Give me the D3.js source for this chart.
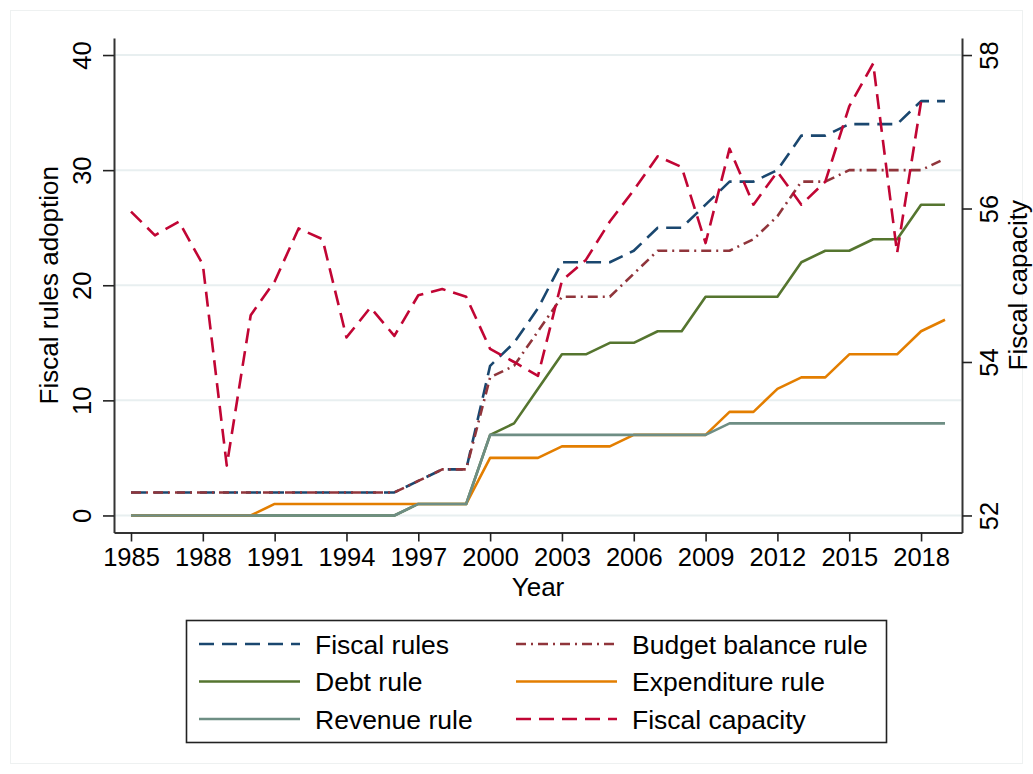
<!DOCTYPE html>
<html>
<head>
<meta charset="utf-8">
<script src="https://cdn.jsdelivr.net/npm/d3@7"></script>
<style>
  body { margin: 0; background: #fff; }
  text { font-family: "Liberation Sans", Arial, sans-serif; fill: #000; }
</style>
</head>
<body>
<div id="chart"></div>
<script>
// chart data
var years = [1985, 1986, 1987, 1988, 1989, 1990, 1991, 1992, 1993, 1994, 1995, 1996,
  1997, 1998, 1999, 2000, 2001, 2002, 2003, 2004, 2005, 2006, 2007, 2008, 2009,
  2010, 2011, 2012, 2013, 2014, 2015, 2016, 2017, 2018, 2019];

var fiscalRules = [2, 2, 2, 2, 2, 2, 2, 2, 2, 2, 2, 2,
  3, 4, 4, 13, 15, 18, 22, 22, 22, 23, 25, 25, 27, 29, 29, 30, 33, 33, 34, 34, 34, 36, 36];
var budgetRule = [2, 2, 2, 2, 2, 2, 2, 2, 2, 2, 2, 2,
  3, 4, 4, 12, 13, 16, 19, 19, 19, 21, 23, 23, 23, 23, 24, 26, 29, 29, 30, 30, 30, 30, 31];
var debtRule = [0, 0, 0, 0, 0, 0, 0, 0, 0, 0, 0, 0,
  1, 1, 1, 7, 8, 11, 14, 14, 15, 15, 16, 16, 19, 19, 19, 19, 22, 23, 23, 24, 24, 27, 27];
var expenditureRule = [0, 0, 0, 0, 0, 0, 1, 1, 1, 1, 1, 1,
  1, 1, 1, 5, 5, 5, 6, 6, 6, 7, 7, 7, 7, 9, 9, 11, 12, 12, 14, 14, 14, 16, 17];
var revenueRule = [0, 0, 0, 0, 0, 0, 0, 0, 0, 0, 0, 0,
  1, 1, 1, 7, 7, 7, 7, 7, 7, 7, 7, 7, 7, 8, 8, 8, 8, 8, 8, 8, 8, 8, 8];
// right axis, no value for 2019
var fiscalCapacity = [55.96, 55.65, 55.83, 55.27, 52.65, 54.61, 55.05, 55.74, 55.60, 54.32,
  54.71, 54.34, 54.87, 54.95, 54.85, 54.17, 54.00, 53.82, 55.06, 55.33, 55.83, 56.24,
  56.68, 56.54, 55.55, 56.78, 56.05, 56.48, 56.05, 56.35, 57.33, 57.89, 55.42, 57.39, null];

var xTicks = [1985, 1988, 1991, 1994, 1997, 2000, 2003, 2006, 2009, 2012, 2015, 2018];
var yTicks = [0, 10, 20, 30, 40];
var y2Ticks = [52, 54, 56, 58];

var seriesNames = ["Fiscal rules", "Budget balance rule", "Debt rule",
  "Expenditure rule", "Revenue rule", "Fiscal capacity"];

// styles (stata s2color)
var series = [
  {name: seriesNames[0], values: fiscalRules, color: "#1a476f", dash: "15,8", right: false},
  {name: seriesNames[1], values: budgetRule, color: "#90353b", dash: "10,5,2,5", right: false},
  {name: seriesNames[2], values: debtRule, color: "#55752f", dash: null, right: false},
  {name: seriesNames[3], values: expenditureRule, color: "#e37e00", dash: null, right: false},
  {name: seriesNames[4], values: revenueRule, color: "#6e8e84", dash: null, right: false},
  {name: seriesNames[5], values: fiscalCapacity, color: "#c10534", dash: "15,8", right: true}
];

var width = 1033, height = 774;
var plot = {left: 114, right: 962, top: 38, bottom: 532.5};

var svg = d3.select("#chart")
  .append("svg")
    .attr("width", width)
    .attr("height", height);

// faint outer frame
svg.append("rect")
  .attr("x", 10.5).attr("y", 10.5)
  .attr("width", width - 21).attr("height", height - 21)
  .attr("fill", "none")
  .attr("stroke", "#eef1f1")
  .attr("stroke-width", 1);

var x = d3.scaleLinear().domain([1984.29, 2019.71]).range([plot.left, plot.right]);
var y = d3.scaleLinear().domain([-1.48, 41.48]).range([plot.bottom, plot.top]);
var y2 = d3.scaleLinear().domain([51.778, 58.222]).range([plot.bottom, plot.top]);

// gridlines
svg.append("g")
  .selectAll("line")
  .data(yTicks)
  .enter()
  .append("line")
    .attr("x1", plot.left + 1)
    .attr("x2", plot.right - 1)
    .attr("y1", function(d) { return y(d); })
    .attr("y2", function(d) { return y(d); })
    .attr("stroke", "#e8eff0")
    .attr("stroke-width", 2);

// left axis
var gLeft = svg.append("g")
  .attr("transform", "translate(" + plot.left + ",0)")
  .call(d3.axisLeft(y).tickValues(yTicks).tickSize(11).tickSizeOuter(0).tickFormat(d3.format("d")));
gLeft.selectAll("text")
  .attr("x", 0).attr("dy", 0)
  .attr("text-anchor", "middle")
  .attr("transform", "translate(-23,0) rotate(-90)")
  .style("font-size", "25.5px");

// right axis
var gRight = svg.append("g")
  .attr("transform", "translate(" + plot.right + ",0)")
  .call(d3.axisRight(y2).tickValues(y2Ticks).tickSize(10).tickSizeOuter(0).tickFormat(d3.format("d")));
gRight.selectAll("text")
  .attr("x", 0).attr("dy", 0)
  .attr("text-anchor", "middle")
  .attr("transform", "translate(36,0) rotate(-90)")
  .style("font-size", "25.5px");

// bottom axis
var gBottom = svg.append("g")
  .attr("transform", "translate(0," + plot.bottom + ")")
  .call(d3.axisBottom(x).tickValues(xTicks).tickSize(9).tickSizeOuter(0).tickFormat(d3.format("d")));
gBottom.selectAll("text")
  .attr("y", 33.5).attr("dy", 0)
  .style("font-size", "25.5px");

[gLeft, gRight, gBottom].forEach(function(g) {
  g.select(".domain").attr("stroke", "#333").attr("stroke-width", 2);
  g.selectAll(".tick line").attr("stroke", "#222").attr("stroke-width", 1.6);
});

// axis titles
var midY = (plot.top + plot.bottom) / 2;
svg.append("text")
  .attr("transform", "translate(58," + midY + ") rotate(-90)")
  .attr("text-anchor", "middle")
  .style("font-size", "26px")
  .text("Fiscal rules adoption");
svg.append("text")
  .attr("transform", "translate(1026.5," + midY + ") rotate(-90)")
  .attr("text-anchor", "middle")
  .style("font-size", "26px")
  .text("Fiscal capacity");
svg.append("text")
  .attr("x", (plot.left + plot.right) / 2)
  .attr("y", 596)
  .attr("text-anchor", "middle")
  .style("font-size", "26px")
  .text("Year");

// lines
series.forEach(function(s) {
  var sc = s.right ? y2 : y;
  var line = d3.line()
    .defined(function(d) { return d != null; })
    .x(function(d, i) { return x(years[i]); })
    .y(function(d) { return sc(d); });
  svg.append("path")
    .datum(s.values)
    .attr("fill", "none")
    .attr("stroke", s.color)
    .attr("stroke-width", 2.6)
    .attr("stroke-dasharray", s.dash)
    .attr("stroke-linejoin", "round")
    .attr("d", line);
});

// legend
var legend = svg.append("g");
legend.append("rect")
  .attr("x", 186.5).attr("y", 620.5)
  .attr("width", 700).attr("height", 122)
  .attr("fill", "#fff")
  .attr("stroke", "#222")
  .attr("stroke-width", 1.6);

var cols = [199, 516];
var rows = [644, 681.5, 719];
// two columns, filled row by row
series.forEach(function(s, i) {
  var cx = cols[i % 2], cy = rows[Math.floor(i / 2)];
  legend.append("line")
    .attr("x1", cx).attr("x2", cx + 101)
    .attr("y1", cy).attr("y2", cy)
    .attr("stroke", s.color)
    .attr("stroke-width", 2.6)
    .attr("stroke-dasharray", s.dash);
  legend.append("text")
    .attr("x", cx + 116)
    .attr("y", cy + 9.5)
    .style("font-size", "26.5px")
    .text(s.name);
});
</script>
</body>
</html>
